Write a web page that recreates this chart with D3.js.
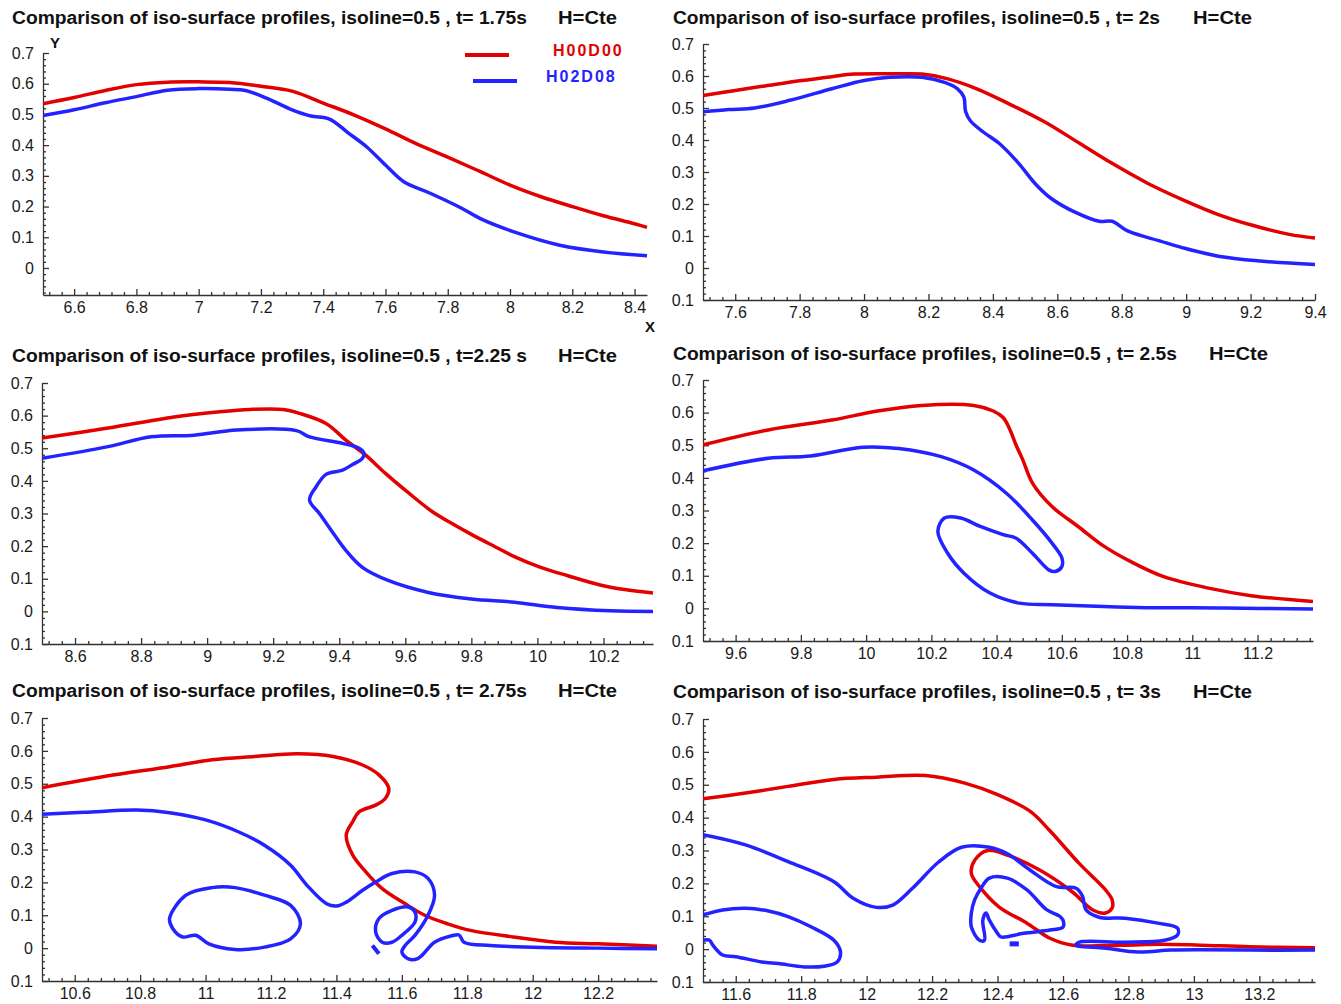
<!DOCTYPE html>
<html><head><meta charset="utf-8">
<script src="https://cdn.jsdelivr.net/npm/d3@7"></script>
<style>body{margin:0;background:#fff}svg{display:block}</style>
</head><body>
<svg id="c" width="1341" height="1004"></svg>
<script>
// ---------------- DATA ----------------
const seriesNames = ["H00D00", "H02D08"];
const titles = [
  "Comparison of iso-surface profiles, isoline=0.5 , t= 1.75s",
  "Comparison of iso-surface profiles, isoline=0.5 , t= 2s",
  "Comparison of iso-surface profiles, isoline=0.5 , t=2.25 s",
  "Comparison of iso-surface profiles, isoline=0.5 , t= 2.5s",
  "Comparison of iso-surface profiles, isoline=0.5 , t= 2.75s",
  "Comparison of iso-surface profiles, isoline=0.5 , t= 3s"
];
const subTitle = "H=Cte";
const yTicks = [0.7, 0.6, 0.5, 0.4, 0.3, 0.2, 0.1, 0, -0.1];
const yTickLabels = ["0.7", "0.6", "0.5", "0.4", "0.3", "0.2", "0.1", "0", "0.1"];
const xTicks1 = [6.6, 6.8, 7, 7.2, 7.4, 7.6, 7.8, 8, 8.2, 8.4];
const xTicks2 = [7.6, 7.8, 8, 8.2, 8.4, 8.6, 8.8, 9, 9.2, 9.4];
const xTicks3 = [8.6, 8.8, 9, 9.2, 9.4, 9.6, 9.8, 10, 10.2];
const xTicks4 = [9.6, 9.8, 10, 10.2, 10.4, 10.6, 10.8, 11, 11.2];
const xTicks5 = [10.6, 10.8, 11, 11.2, 11.4, 11.6, 11.8, 12, 12.2];
const xTicks6 = [11.6, 11.8, 12, 12.2, 12.4, 12.6, 12.8, 13, 13.2];

// t = 1.75 s
const p1Red = [[6.5,0.535],[6.6,0.555],[6.7,0.578],[6.8,0.597],[6.9,0.605],[7.0,0.606],[7.1,0.604],[7.2,0.592],[7.3,0.576],[7.4,0.537],[7.5,0.498],[7.6,0.453],[7.7,0.404],[7.8,0.361],[7.9,0.316],[8.0,0.27],[8.1,0.232],[8.2,0.2],[8.3,0.17],[8.4,0.144],[8.44,0.132]];
const p1Blue = [[6.5,0.496],[6.6,0.515],[6.7,0.538],[6.8,0.558],[6.9,0.579],[7.0,0.584],[7.1,0.582],[7.15,0.578],[7.22,0.552],[7.3,0.515],[7.36,0.495],[7.42,0.485],[7.48,0.44],[7.54,0.394],[7.6,0.335],[7.66,0.28],[7.74,0.245],[7.84,0.197],[7.91,0.158],[8.02,0.115],[8.16,0.074],[8.3,0.052],[8.44,0.04]];
// t = 2 s
const p2Red = [[7.5,0.539],[7.6,0.555],[7.7,0.57],[7.8,0.585],[7.9,0.598],[7.97,0.606],[8.1,0.607],[8.18,0.606],[8.26,0.591],[8.35,0.56],[8.45,0.513],[8.56,0.457],[8.67,0.389],[8.77,0.327],[8.88,0.265],[8.99,0.213],[9.1,0.167],[9.2,0.135],[9.32,0.105],[9.4,0.094]];
const p2Blue = [[7.5,0.488],[7.58,0.495],[7.66,0.5],[7.77,0.524],[7.9,0.56],[8.0,0.586],[8.08,0.596],[8.18,0.596],[8.25,0.58],[8.29,0.56],[8.31,0.534],[8.315,0.49],[8.33,0.46],[8.37,0.425],[8.42,0.389],[8.48,0.327],[8.53,0.265],[8.58,0.218],[8.66,0.172],[8.73,0.146],[8.77,0.146],[8.82,0.115],[8.92,0.084],[8.99,0.063],[9.1,0.037],[9.23,0.022],[9.4,0.011]];
// t = 2.25 s
const p3Red = [[8.5,0.531],[8.7,0.562],[8.9,0.596],[9.03,0.611],[9.13,0.619],[9.23,0.619],[9.28,0.607],[9.36,0.576],[9.42,0.525],[9.48,0.479],[9.54,0.423],[9.61,0.363],[9.68,0.307],[9.74,0.27],[9.8,0.236],[9.87,0.199],[9.93,0.168],[10.01,0.135],[10.09,0.11],[10.19,0.081],[10.27,0.066],[10.35,0.056]];
const p3Blue = [[8.5,0.469],[8.7,0.505],[8.83,0.535],[8.96,0.54],[9.09,0.556],[9.27,0.554],[9.31,0.535],[9.41,0.515],[9.46,0.5],[9.475,0.484],[9.47,0.469],[9.44,0.45],[9.41,0.433],[9.36,0.42],[9.33,0.382],[9.31,0.341],[9.34,0.3],[9.39,0.228],[9.42,0.187],[9.47,0.135],[9.55,0.094],[9.67,0.058],[9.8,0.038],[9.93,0.028],[10.06,0.012],[10.22,0.002],[10.35,0.0]];
// t = 2.5 s
const p4Red = [[9.5,0.501],[9.7,0.547],[9.9,0.578],[10.03,0.604],[10.17,0.622],[10.33,0.622],[10.39,0.605],[10.42,0.585],[10.44,0.55],[10.46,0.5],[10.48,0.456],[10.51,0.384],[10.57,0.312],[10.65,0.251],[10.73,0.19],[10.81,0.144],[10.91,0.098],[11.05,0.062],[11.18,0.039],[11.37,0.021]];
const p4Blue = [[9.5,0.422],[9.7,0.46],[9.83,0.467],[9.99,0.494],[10.1,0.49],[10.23,0.465],[10.33,0.424],[10.43,0.353],[10.51,0.271],[10.57,0.2],[10.6,0.155],[10.6,0.128],[10.58,0.113],[10.56,0.118],[10.51,0.169],[10.46,0.215],[10.42,0.226],[10.35,0.251],[10.29,0.277],[10.24,0.277],[10.22,0.236],[10.25,0.169],[10.3,0.108],[10.38,0.047],[10.47,0.016],[10.57,0.011],[10.83,0.003],[11.1,0.001],[11.37,-0.002]];
// t = 2.75 s
const p5Red = [[10.5,0.488],[10.69,0.522],[10.89,0.552],[11.02,0.573],[11.15,0.583],[11.28,0.591],[11.39,0.583],[11.48,0.557],[11.53,0.527],[11.56,0.486],[11.55,0.456],[11.52,0.435],[11.47,0.415],[11.45,0.385],[11.43,0.344],[11.45,0.283],[11.49,0.232],[11.54,0.181],[11.61,0.135],[11.67,0.1],[11.74,0.074],[11.81,0.054],[11.94,0.034],[12.07,0.018],[12.2,0.013],[12.38,0.006]];
const p5Blue = [[10.5,0.407],[10.63,0.413],[10.79,0.42],[10.89,0.412],[11.0,0.39],[11.1,0.354],[11.18,0.313],[11.26,0.252],[11.31,0.191],[11.37,0.135],[11.4,0.128],[11.43,0.14],[11.48,0.176],[11.52,0.201],[11.57,0.227],[11.64,0.232],[11.68,0.212],[11.7,0.161],[11.68,0.1],[11.64,0.039],[11.61,0.008],[11.6,-0.012],[11.62,-0.033],[11.65,-0.031],[11.7,0.018],[11.75,0.037],[11.775,0.04],[11.79,0.018],[11.87,0.008],[12.0,0.003],[12.2,0.0],[12.38,-0.002]];
const p5BlueLoopA = [[10.89,0.09],[10.94,0.161],[11.02,0.184],[11.09,0.184],[11.18,0.161],[11.26,0.13],[11.29,0.074],[11.26,0.028],[11.18,0.003],[11.09,-0.004],[11.01,0.013],[10.97,0.039],[10.93,0.034],[10.9,0.059]];
const p5BlueLoopB = [[11.52,0.049],[11.53,0.09],[11.57,0.115],[11.62,0.125],[11.64,0.11],[11.64,0.079],[11.6,0.039],[11.57,0.018],[11.54,0.018]];
const p5BlueBit = [[11.51,0.008],[11.53,-0.017]];
// t = 3 s
const p6Red = [[11.5,0.457],[11.63,0.475],[11.76,0.495],[11.9,0.516],[12.03,0.523],[12.18,0.528],[12.3,0.505],[12.4,0.47],[12.5,0.419],[12.56,0.36],[12.65,0.26],[12.73,0.18],[12.75,0.15],[12.75,0.125],[12.73,0.11],[12.69,0.12],[12.63,0.173],[12.53,0.24],[12.43,0.286],[12.37,0.3],[12.33,0.27],[12.32,0.23],[12.345,0.19],[12.405,0.128],[12.49,0.079],[12.56,0.033],[12.63,0.012],[12.78,0.012],[12.9,0.015],[13.02,0.012],[13.17,0.007],[13.37,0.004]];
const p6Blue = [[11.5,0.348],[11.63,0.317],[11.76,0.266],[11.9,0.205],[11.96,0.154],[12.03,0.127],[12.08,0.134],[12.14,0.185],[12.22,0.265],[12.29,0.31],[12.375,0.31],[12.43,0.29],[12.5,0.24],[12.58,0.19],[12.64,0.185],[12.66,0.16],[12.67,0.12],[12.71,0.097],[12.79,0.094],[12.89,0.079],[12.95,0.064],[12.95,0.043],[12.91,0.027],[12.79,0.021],[12.65,0.021],[12.64,0.012],[12.73,0.003],[12.83,-0.009],[12.93,-0.003],[13.02,-0.002],[13.17,-0.003],[13.37,-0.003]];
const p6BlueLoopA = [[12.375,0.216],[12.43,0.216],[12.49,0.18],[12.55,0.12],[12.59,0.1],[12.6,0.088],[12.6,0.067],[12.56,0.058],[12.48,0.048],[12.41,0.037],[12.4,0.048],[12.375,0.088],[12.365,0.11],[12.355,0.088],[12.36,0.027],[12.345,0.027],[12.32,0.067],[12.32,0.11],[12.33,0.15],[12.35,0.186]];
const p6BlueLoopB = [[11.5,0.104],[11.56,0.119],[11.63,0.124],[11.7,0.116],[11.76,0.099],[11.83,0.068],[11.9,0.027],[11.92,-0.008],[11.91,-0.039],[11.87,-0.052],[11.81,-0.054],[11.73,-0.044],[11.68,-0.039],[11.6,-0.023],[11.56,-0.018],[11.53,0.012],[11.52,0.027],[11.5,0.027]];
const p6BlueBit = [[12.437,0.016],[12.465,0.016]];

// ---------------- LAYOUT ----------------
const RED = "#e20000", BLUE = "#2323ff";
const FONT = "'Liberation Sans', Arial, Helvetica, sans-serif";
const panels = [
  {xd:[6.5,8.44],  xr:[43,647],   yd:[-0.088,0.7], yr:[295,53],  ticks:xTicks1, tx:12,  ty:24,  tw:515, hx:558,
   curves:[{d:p1Red,c:RED},{d:p1Blue,c:BLUE}], legend:true},
  {xd:[7.5,9.4],   xr:[703,1315], yd:[-0.1,0.7],   yr:[300,44],  ticks:xTicks2, tx:673, ty:24,  tw:487, hx:1193,
   curves:[{d:p2Red,c:RED},{d:p2Blue,c:BLUE}]},
  {xd:[8.5,10.35], xr:[42,653],   yd:[-0.1,0.7],   yr:[644,383], ticks:xTicks3, tx:12,  ty:362, tw:515, hx:558,
   curves:[{d:p3Red,c:RED},{d:p3Blue,c:BLUE}]},
  {xd:[9.5,11.37], xr:[703,1313], yd:[-0.1,0.7],   yr:[641,380], ticks:xTicks4, tx:673, ty:360, tw:504, hx:1209,
   curves:[{d:p4Red,c:RED},{d:p4Blue,c:BLUE}]},
  {xd:[10.5,12.38],xr:[42,657],   yd:[-0.1,0.7],   yr:[981,718], ticks:xTicks5, tx:12,  ty:697, tw:515, hx:558,
   curves:[{d:p5Red,c:RED},{d:p5Blue,c:BLUE},{d:p5BlueLoopA,c:BLUE,closed:true},{d:p5BlueLoopB,c:BLUE,closed:true},{d:p5BlueBit,c:BLUE,w:4}]},
  {xd:[11.5,13.37],xr:[703,1315], yd:[-0.1,0.7],   yr:[982,719], ticks:xTicks6, tx:673, ty:698, tw:488, hx:1193,
   curves:[{d:p6Red,c:RED},{d:p6Blue,c:BLUE},{d:p6BlueLoopA,c:BLUE,closed:true},{d:p6BlueLoopB,c:BLUE},{d:p6BlueBit,c:BLUE,w:5}]}
];

const svg = d3.select("#c");
const rnd = v => Math.round(v*1000)/1000;

panels.forEach((p, i) => {
  const x = d3.scaleLinear().domain(p.xd).range(p.xr);
  const y = d3.scaleLinear().domain(p.yd).range(p.yr);
  const g = svg.append("g");

  // title
  g.append("text").attr("x", p.tx).attr("y", p.ty).text(titles[i])
    .attr("font-family", FONT).attr("font-weight", "bold").attr("font-size", 18)
    .attr("textLength", p.tw).attr("lengthAdjust", "spacingAndGlyphs").attr("fill", "#111");
  g.append("text").attr("x", p.hx).attr("y", p.ty).text(subTitle)
    .attr("font-family", FONT).attr("font-weight", "bold").attr("font-size", 18)
    .attr("textLength", 59).attr("lengthAdjust", "spacingAndGlyphs").attr("fill", "#111");

  // clip
  const cid = "clip" + i;
  svg.append("clipPath").attr("id", cid).append("rect")
    .attr("x", p.xr[0]).attr("y", p.yr[1] - 4)
    .attr("width", p.xr[1] - p.xr[0] + 3).attr("height", p.yr[0] - p.yr[1] + 4);

  // minor ticks
  const yMinor = d3.range(-50, 36).map(k => rnd(k*0.02)).filter(v => v >= p.yd[0]-1e-9 && v <= p.yd[1]+1e-9 && Math.abs(v*10 - Math.round(v*10)) > 1e-6);
  const xMinor = d3.range(Math.ceil(p.xd[0]/0.04), Math.floor(p.xd[1]/0.04)+1).map(k => rnd(k*0.04)).filter(v => Math.abs(v*5 - Math.round(v*5)) > 1e-6 && v > p.xd[0]);

  const axStyle = sel => {
    sel.selectAll("path,line").attr("stroke", "#333").attr("stroke-width", 1.3);
    sel.selectAll("text").attr("font-family", FONT).attr("font-size", 16).attr("fill", "#1a1a1a");
  };

  g.append("g").attr("transform", `translate(${p.xr[0]},0)`)
    .call(d3.axisLeft(y).tickValues(yMinor).tickSize(-3).tickSizeOuter(0).tickFormat(""))
    .call(axStyle).select(".domain").remove();
  g.append("g").attr("transform", `translate(0,${p.yr[0]})`)
    .call(d3.axisBottom(x).tickValues(xMinor).tickSize(-3).tickSizeOuter(0).tickFormat(""))
    .call(axStyle).select(".domain").remove();

  const yVals = yTicks.filter(v => v >= p.yd[0] - 1e-9);
  g.append("g").attr("transform", `translate(${p.xr[0]},0)`)
    .call(d3.axisLeft(y).tickValues(yVals).tickSize(-6).tickSizeOuter(0).tickPadding(9)
      .tickFormat(v => yTickLabels[yTicks.indexOf(v)]))
    .call(axStyle);
  g.append("g").attr("transform", `translate(0,${p.yr[0]})`)
    .call(d3.axisBottom(x).tickValues(p.ticks).tickSize(-6).tickSizeOuter(0).tickPadding(7)
      .tickFormat(d3.format("~g")))
    .call(axStyle);

  // curves
  const cg = g.append("g").attr("clip-path", `url(#${cid})`);
  p.curves.forEach(cv => {
    const line = d3.line().x(d => x(d[0])).y(d => y(d[1]))
      .curve(cv.closed ? d3.curveCatmullRomClosed.alpha(0.5) : d3.curveCatmullRom.alpha(0.5));
    cg.append("path").attr("d", line(cv.d)).attr("fill", "none")
      .attr("stroke", cv.c).attr("stroke-width", cv.w || 3.5)
      .attr("stroke-linejoin", "round").attr("stroke-linecap", "butt");
  });

  if (p.legend) {
    g.append("text").attr("x", 50).attr("y", 48).text("Y")
      .attr("font-family", FONT).attr("font-weight", "bold").attr("font-size", 15).attr("fill", "#111");
    g.append("text").attr("x", 645).attr("y", 332).text("X")
      .attr("font-family", FONT).attr("font-weight", "bold").attr("font-size", 15).attr("fill", "#111");
    const leg = [{c:RED, lx:[465,509], ly:55, tx:553, ty:56}, {c:BLUE, lx:[473,517], ly:81, tx:546, ty:82}];
    leg.forEach((l, k) => {
      g.append("line").attr("x1", l.lx[0]).attr("x2", l.lx[1]).attr("y1", l.ly).attr("y2", l.ly)
        .attr("stroke", l.c).attr("stroke-width", 4);
      g.append("text").attr("x", l.tx).attr("y", l.ty).text(seriesNames[k])
        .attr("font-family", FONT).attr("font-weight", "bold").attr("font-size", 16)
        .attr("letter-spacing", 2).attr("fill", l.c);
    });
  }
});
</script>
</body></html>
